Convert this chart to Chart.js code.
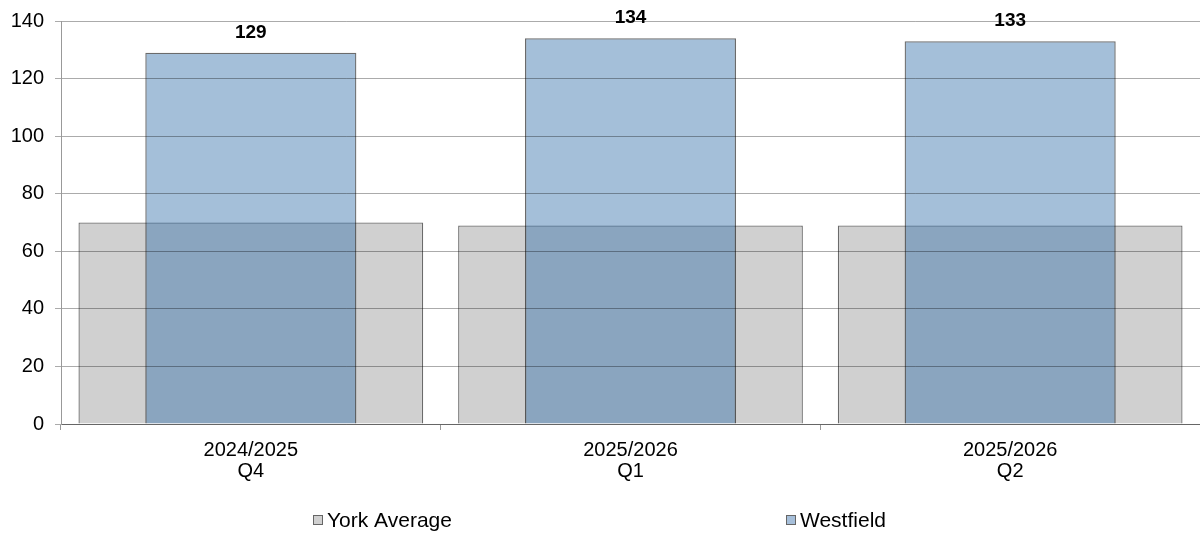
<!DOCTYPE html>
<html>
<head>
<meta charset="utf-8">
<script src="https://cdn.jsdelivr.net/npm/chart.js@4/dist/chart.umd.min.js"></script>
<style>
html,body{margin:0;padding:0;background:#fff;}
#wrap{width:1200px;height:533px;position:relative;}
</style>
</head>
<body>
<div id="wrap"><canvas id="c" width="1200" height="533"></canvas></div>
<script>
const categories = [["2024/2025","Q4"],["2025/2026","Q1"],["2025/2026","Q2"]];
const seriesNames = ["York Average","Westfield"];
const yorkAverage = [70, 69, 69];
const westfield = [129, 134, 133];
const yTicks = [0, 20, 40, 60, 80, 100, 120, 140];

const FONT = "'Liberation Sans', Arial, sans-serif";
const greyFill = '#d0d0d0';
const blueFill = 'rgba(54,112,170,0.45)';
const blueLegend = '#a6bfda';

const labelPlugin = {
  id: 'valueLabels',
  afterDatasetsDraw(chart) {
    const ctx = chart.ctx;
    const meta = chart.getDatasetMeta(1);
    ctx.save();
    ctx.font = 'bold 19px ' + FONT;
    ctx.fillStyle = '#000';
    ctx.textAlign = 'center';
    ctx.textBaseline = 'alphabetic';
    meta.data.forEach((bar, i) => {
      ctx.fillText(String(chart.data.datasets[1].data[i]), bar.x, bar.y - 15);
    });
    ctx.restore();
  }
};

const legendPlugin = {
  id: 'customLegend',
  afterDraw(chart) {
    const ctx = chart.ctx;
    const items = [
      {x: 313, fill: greyFill, text: seriesNames[0]},
      {x: 786, fill: blueLegend, text: seriesNames[1]}
    ];
    const cy = 520;
    ctx.save();
    ctx.font = '21px ' + FONT;
    ctx.textBaseline = 'middle';
    ctx.textAlign = 'left';
    items.forEach(it => {
      ctx.fillStyle = it.fill;
      ctx.fillRect(it.x, cy - 5, 10, 10);
      ctx.strokeStyle = '#666';
      ctx.lineWidth = 1;
      ctx.strokeRect(it.x + 0.5, cy - 5 + 0.5, 9, 9);
      ctx.fillStyle = '#000';
      ctx.fillText(it.text, it.x + 14, cy + 1);
    });
    ctx.restore();
  }
};

new Chart(document.getElementById('c'), {
  type: 'bar',
  data: {
    labels: categories,
    datasets: [
      {
        label: seriesNames[0],
        data: yorkAverage,
        backgroundColor: greyFill,
        borderColor: 'rgba(0,0,0,0.58)',
        borderWidth: 1.3,
        grouped: false,
        barPercentage: 0.908,
        categoryPercentage: 1,
        order: 2
      },
      {
        label: seriesNames[1],
        data: westfield,
        backgroundColor: blueFill,
        borderColor: 'rgba(0,0,0,0.58)',
        borderWidth: 1.3,
        grouped: false,
        barPercentage: 0.556,
        categoryPercentage: 1,
        order: 1
      }
    ]
  },
  options: {
    responsive: false,
    animation: false,
    devicePixelRatio: 1,
    layout: {padding: {top: 21, right: 0, bottom: 0, left: 0}},
    plugins: {
      legend: {display: false},
      tooltip: {enabled: false},
      title: {display: false}
    },
    scales: {
      x: {
        offset: true,
        grid: {display: true, drawOnChartArea: false, drawTicks: true, tickLength: 6, color: '#999', offset: true},
        border: {display: true, color: '#999'},
        ticks: {color: '#000', font: {family: FONT, size: 20, lineHeight: 1.05}, padding: 10, maxRotation: 0, autoSkip: false},
        afterFit(scale) { scale.height = 109; scale.paddingLeft = 0; scale.paddingRight = 0; }
      },
      y: {
        min: 0,
        max: 140,
        afterBuildTicks(scale) { scale.ticks = yTicks.map(v => ({value: v})); },
        grid: {color: 'rgba(0,0,0,0.33)', z: 1, tickLength: 6, drawTicks: true},
        border: {display: true, color: '#999', z: 2},
        ticks: {color: '#000', font: {family: FONT, size: 20}, padding: 11},
        afterFit(scale) { scale.width = 61; scale.paddingTop = 0; scale.paddingBottom = 0; }
      }
    }
  },
  plugins: [labelPlugin, legendPlugin]
});
</script>
</body>
</html>
